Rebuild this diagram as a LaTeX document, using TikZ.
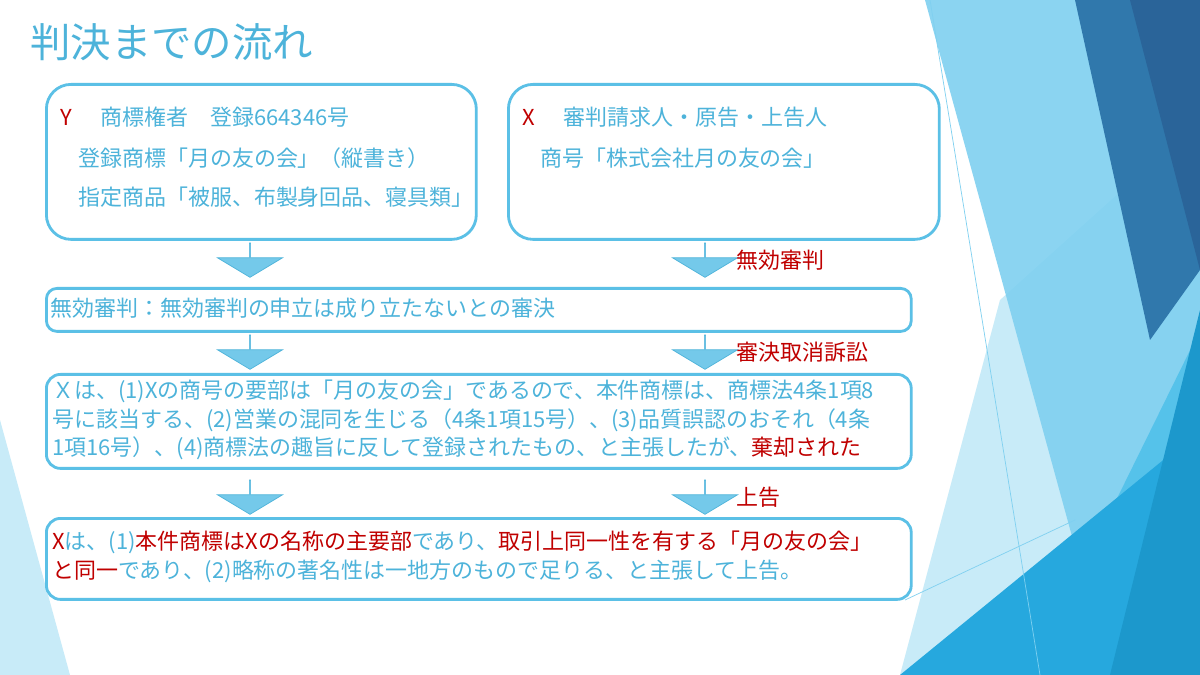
\documentclass[tikz,border=0pt]{standalone}
\usepackage{fontspec}
\setmainfont{Noto Sans CJK JP}
\usetikzlibrary{shapes.arrows,positioning}
\definecolor{txtblue}{HTML}{4DB3DA}
\definecolor{boxblue}{HTML}{5BC0E6}
\definecolor{redtxt}{HTML}{C00000}
\definecolor{bgpale}{HTML}{C8EBF8}
\definecolor{bglight}{HTML}{7FD0F0}
\definecolor{bgmid}{HTML}{55C2EA}
\definecolor{bgdark}{HTML}{3078AC}
\definecolor{bgdeep}{HTML}{2A6499}
\definecolor{bgcyan}{HTML}{26A8DE}
\definecolor{bgsea}{HTML}{1C98CC}
\tikzset{
    box/.style={draw=boxblue, line width=1.6pt, rounded corners=#1, anchor=north west, inner sep=0pt},
    downarrow/.style={single arrow, draw=txtblue, fill=boxblue!85, shape border rotate=270,
        minimum width=37pt, single arrow head extend=10pt, single arrow tip angle=118,
        minimum height=19.5pt, inner sep=0pt},
    body/.style={anchor=west, inner sep=0pt, text=txtblue, font=\fontsize{12.5}{16.2}\selectfont},
    tag/.style={anchor=west, inner sep=0pt, text=redtxt, font=\fontsize{12.5}{14}\selectfont}
}
\newcommand{\rd}[1]{\textcolor{redtxt}{#1}}
\begin{document}
\begin{tikzpicture}[x=0.02cm, y=-0.02cm]
    \useasboundingbox (0,0) rectangle (1200,675);
    % background
    \fill[white] (0,0) rectangle (1200,675);
    \fill[bgpale] (0,420) -- (0,675) -- (70,675) -- cycle;
    \fill[bgpale] (1000,300) -- (1200,120) -- (1200,675) -- (900,675) -- cycle;
    \fill[bglight, opacity=.9] (925,0) -- (1200,0) -- (1200,675) -- (1110,675) -- cycle;
    \fill[bgmid] (1030,675) -- (1200,330) -- (1200,675) -- cycle;
    \fill[bgdark] (1075,0) -- (1200,0) -- (1200,270) -- (1150,340) -- cycle;
    \fill[bgdeep] (1130,0) -- (1200,0) -- (1200,270) -- cycle;
    \fill[bgcyan] (900,675) -- (1200,430) -- (1200,675) -- cycle;
    \fill[bgsea] (1110,675) -- (1200,310) -- (1200,675) -- cycle;
    \draw[bglight] (930,0) -- (1040,675) (905,600) -- (1075,520);

    % title
    \node[anchor=west, text=txtblue, font=\fontsize{23}{26}\selectfont, inner sep=0pt] (title) at (30,42) {判決までの流れ};

    % boxes
    \node[box=14pt, fill=white, minimum width=8.6cm, minimum height=3.1cm] (ybox) at (45,83) {};
    \node[box=14pt, fill=white, minimum width=8.62cm, minimum height=3.1cm] (xbox) at (507,83) {};
    \node[box=6pt, fill=white, minimum width=17.3cm, minimum height=0.86cm] (trial) at (45,287) {};
    \node[box=8pt, fill=white, minimum width=17.3cm, minimum height=1.88cm] (suit) at (45,373) {};
    \node[box=8pt, fill=white, minimum width=17.3cm, minimum height=1.62cm] (appeal) at (45,517) {};

    % box texts
    \node[body] (y1) at (60,117) {\rd{Y}\hspace{1.3em}商標権者\hspace{1em}登録664346号};
    \node[body] (y2) at (78,158) {登録商標「月の友の会」（縦書き）};
    \node[body] (y3) at (78,197) {指定商品「被服、布製身回品、寝具類」};
    \node[body] (x1) at (522,117) {\rd{X}\hspace{1.3em}審判請求人・原告・上告人};
    \node[body] (x2) at (540,158) {商号「株式会社月の友の会」};
    \node[body] (t1) at (50,308) {無効審判：無効審判の申立は成り立たないとの審決};
    \node[body, align=left] (s1) at (52,420) {Ｘは、(1)Xの商号の要部は「月の友の会」であるので、本件商標は、商標法4条1項8\\
        号に該当する、(2)営業の混同を生じる（4条1項15号）、(3)品質誤認のおそれ（4条\\
        1項16号）、(4)商標法の趣旨に反して登録されたもの、と主張したが、\rd{棄却された}};
    \node[body, align=left] (a1) at (52,557) {\rd{X}は、(1)\rd{本件商標はXの名称の主要部}であり、\rd{取引上同一性を有する「月の友の会」}\\
        \rd{と同一}であり、(2)略称の著名性は一地方のもので足りる、と主張して上告。};

    % arrows
    \node[downarrow] (la1) at (250,260) {};
    \node[downarrow] (ra1) at (705,260) {};
    \node[downarrow] (la2) at (250,352) {};
    \node[downarrow] (ra2) at (705,352) {};
    \node[downarrow] (la3) at (250,497) {};
    \node[downarrow] (ra3) at (705,497) {};
    \node[tag, right=1pt of ra1] (tag1) {無効審判};
    \node[tag, right=1pt of ra2] (tag2) {審決取消訴訟};
    \node[tag, right=1pt of ra3] (tag3) {上告};
\end{tikzpicture}
\end{document}
